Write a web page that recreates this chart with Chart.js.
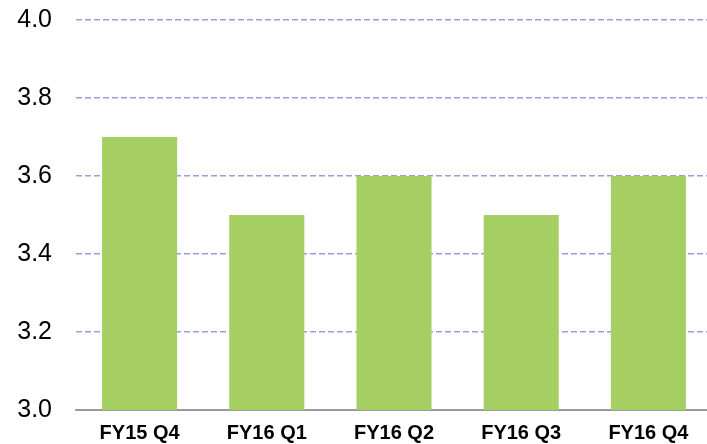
<!DOCTYPE html>
<html>
<head>
<meta charset="utf-8">
<script src="https://cdn.jsdelivr.net/npm/chart.js@4"></script>
<style>
  html, body { margin: 0; padding: 0; background: #fff; overflow: hidden; }
  canvas { display: block; }
</style>
</head>
<body>
<canvas id="chartCanvas" width="712" height="444"></canvas>
<script>
const quarters = ["FY15 Q4", "FY16 Q1", "FY16 Q2", "FY16 Q3", "FY16 Q4"];
const values = [3.7, 3.5, 3.6, 3.5, 3.6];
const yTicks = [3.0, 3.2, 3.4, 3.6, 3.8, 4.0];

const chartCanvas = document.getElementById("chartCanvas");

const chart = new Chart(chartCanvas, {
    type: "bar",
    data: {
        labels: quarters,
        datasets: [{
            data: values,
            backgroundColor: "#a5ce63",
            borderWidth: 0,
            categoryPercentage: 1,
            barPercentage: 0.59
        }]
    },
    options: {
        responsive: false,
        animation: false,
        layout: { padding: { top: 20, right: 0, left: 0, bottom: 0 } },
        plugins: { legend: { display: false }, tooltip: { enabled: false } },
        scales: {
            x: {
                grid: { display: false, drawTicks: false },
                border: { display: true, color: "#9a9a9a", width: 2 },
                ticks: {
                    color: "#000",
                    padding: 11,
                    font: { family: "Liberation Sans, Arial", size: 20, weight: "bold" }
                },
                afterFit: (scale) => { scale.height = 34; }
            },
            y: {
                min: 3.0,
                max: 4.0,
                afterBuildTicks: (scale) => { scale.ticks = yTicks.map(v => ({ value: v })); },
                grid: {
                    color: (ctx) => ctx.tick && ctx.tick.value === 3.0 ? "rgba(0,0,0,0)" : "#9c9cdc",
                    lineWidth: 1.5,
                    drawTicks: false
                },
                border: { display: false, dash: [6, 3] },
                ticks: {
                    color: "#000",
                    padding: 24,
                    callback: (v) => Number(v).toFixed(1),
                    font: { family: "Liberation Sans, Arial", size: 25 }
                },
                afterFit: (scale) => {
                    scale.width = 76;
                    scale.paddingTop = 0;
                    scale.paddingBottom = 0;
                }
            }
        }
    }
});
</script>
</body>
</html>
